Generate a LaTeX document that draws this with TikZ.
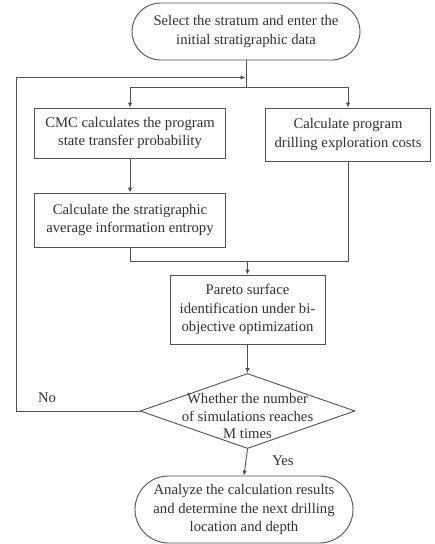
\documentclass[tikz,border=0pt]{standalone}
\usepackage{fontspec}
\setmainfont{Liberation Serif}
\usetikzlibrary{shapes.misc,shapes.geometric,arrows.meta}
\definecolor{ln}{HTML}{505050}
\definecolor{tx}{HTML}{303030}
\tikzset{
  base/.style={draw=ln, line width=0.9pt, text=tx, align=center, inner sep=2pt, font=\fontsize{14.7}{18.5}\selectfont},
  term/.style={base, rounded rectangle},
  proc/.style={base, rectangle},
  conn/.style={draw=ln, line width=0.9pt},
  arr/.style={conn, -{Latex[length=5pt,width=4.5pt]}},
  lbl/.style={text=tx, font=\fontsize{14.7}{18.5}\selectfont, inner sep=0pt}
}
\begin{document}
\begin{tikzpicture}[x=1pt,y=-1pt]
\useasboundingbox (0,0) rectangle (435,544);
\node[term, minimum width=232pt, minimum height=57pt] (start) at (246,31.5) {Select the stratum and enter the\\initial stratigraphic data};
\node[proc, minimum width=191pt, minimum height=50pt] (b1) at (130,133) {CMC calculates the program\\state transfer probability};
\node[proc, minimum width=191pt, minimum height=54pt] (b2) at (130,220) {Calculate the stratigraphic\\average information entropy};
\node[proc, minimum width=165pt, minimum height=53pt] (b3) at (348,134.5) {Calculate program\\drilling exploration costs};
\node[proc, minimum width=155pt, minimum height=69pt] (b4) at (247.5,309.5) {Pareto surface\\identification under bi-\\objective optimization};
\node[draw=ln, line width=0.9pt, diamond, minimum width=215pt, minimum height=75pt, inner sep=0pt] (dia) at (247.5,411) {};
\node[lbl, align=center, font=\fontsize{14.7}{17.5}\selectfont] (diatext) at (247.5,416) {Whether the number\\of simulations reaches\\M times};
\node[term, minimum width=222pt, minimum height=67pt] (end) at (244,509.5) {Analyze the calculation results\\and determine the next drilling\\location and depth};
\node[lbl] (no) at (47,398) {No};
\node[lbl] (yes) at (283,461) {Yes};
\coordinate (j1) at (start.south |- 0,87);
\coordinate (loopin) at (start.south |- 0,77.5);
\coordinate (j2) at (b4.north |- 0,261);
% split
\draw[conn] (start.south) -- (j1);
\draw[arr] (j1) -| (b1.north);
\draw[arr] (j1) -| (b3.north);
\draw[arr] (b1.south) -- (b2.north);
% merge
\draw[conn] (b2.south) |- (j2);
\draw[conn] (b3.south) |- (j2);
\draw[arr] (j2) -- (b4.north);
\draw[arr] (b4.south) -- (dia.north);
% loop
\draw[arr] (dia.west) -- (16,411) -- (16,77.5) -- ([xshift=-0.5pt]loopin);
\draw[arr] (dia.south) -- (end.north);
\end{tikzpicture}
\end{document}
